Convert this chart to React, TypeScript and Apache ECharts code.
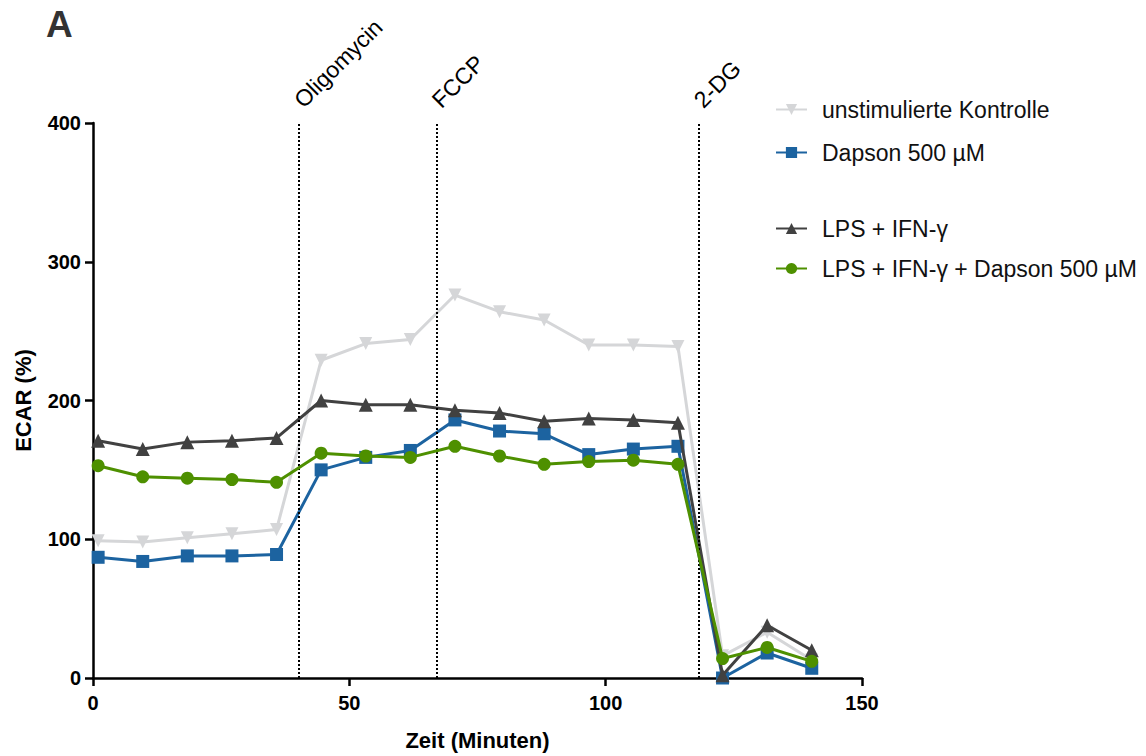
import React, { useEffect, useRef } from "react";
import * as echarts from "echarts";

const times = [1.0, 9.7, 18.4, 27.1, 35.8, 44.5, 53.2, 61.9, 70.6, 79.3, 88.0, 96.7, 105.4, 114.1, 122.8, 131.5, 140.2];
const unstimuliert = [99, 98, 101, 104, 107, 229, 241, 244, 276, 264, 258, 240, 240, 239, 16, 33, 13];
const dapson = [87, 84, 88, 88, 89, 150, 159, 164, 186, 178, 176, 161, 165, 167, 0, 18, 7];
const lpsIfn = [171, 165, 170, 171, 173, 200, 197, 197, 193, 191, 185, 187, 186, 184, 2, 38, 20];
const lpsIfnDapson = [153, 145, 144, 143, 141, 162, 160, 159, 167, 160, 154, 156, 157, 154, 14, 22, 12];
const injections = [
  { name: "Oligomycin", x: 40.2 },
  { name: "FCCP", x: 67.1 },
  { name: "2-DG", x: 118.2 },
];
const seriesNames = ["unstimulierte Kontrolle", "Dapson 500 µM", "LPS + IFN-γ", "LPS + IFN-γ + Dapson 500 µM"];
const colors = ["#d5d6d8", "#1c63a0", "#414141", "#4e9000"];

const FONT = "Liberation Sans, Arial, Helvetica, sans-serif";

export default function App() {
  const ref = useRef<HTMLDivElement>(null);
  useEffect(() => {
    if (!ref.current) return;
    const chart = echarts.init(ref.current, undefined, { renderer: "svg" });
    const pair = (arr: number[]) => times.map((t, i) => [t, arr[i]]);
    const mk = (idx: number, data: number[], symbol: string, size: number, rot = 0, extra: any = {}) => ({
      type: "line",
      name: seriesNames[idx],
      data: pair(data),
      symbol,
      symbolSize: size,
      symbolRotate: rot,
      color: colors[idx],
      lineStyle: { width: 3, color: colors[idx] },
      itemStyle: { color: colors[idx] },
      z: 2 + idx,
      clip: false,
      ...extra,
    });
    const legendText = { fontSize: 23, color: "#111", fontFamily: FONT, padding: [0, 0, 0, 10] };
    chart.setOption({
      animation: false,
      textStyle: { fontFamily: FONT },
      graphic: [
        {
          type: "text",
          left: 46,
          top: 6,
          style: { text: "A", fontSize: 37, fontWeight: "bold", fill: "#333", fontFamily: FONT },
        },
      ],
      legend: [
        {
          data: [seriesNames[0], seriesNames[1]],
          orient: "vertical",
          left: 770,
          top: 93,
          itemWidth: 31,
          itemHeight: 14,
          itemGap: 20,
          textStyle: legendText,
        },
        {
          data: [seriesNames[2], seriesNames[3]],
          orient: "vertical",
          left: 770,
          top: 212,
          itemWidth: 31,
          itemHeight: 14,
          itemGap: 17,
          textStyle: legendText,
        },
      ],
      grid: { left: 93, right: 284, top: 123, bottom: 71, containLabel: false },
      xAxis: {
        type: "value",
        min: 0,
        max: 150,
        interval: 50,
        name: "Zeit (Minuten)",
        nameLocation: "middle",
        nameGap: 51,
        nameTextStyle: { fontSize: 22, fontWeight: "bold", color: "#000", fontFamily: FONT },
        axisLine: { lineStyle: { color: "#000", width: 2.5 } },
        axisTick: { show: true, length: 8, lineStyle: { color: "#000", width: 2.5 } },
        axisLabel: { fontSize: 20, fontWeight: "bold", color: "#000", margin: 15, fontFamily: FONT },
        splitLine: { show: false },
      },
      yAxis: {
        type: "value",
        min: 0,
        max: 400,
        interval: 100,
        name: "ECAR (%)",
        nameLocation: "middle",
        nameGap: 59,
        nameRotate: 90,
        nameTextStyle: { fontSize: 22, fontWeight: "bold", color: "#000", fontFamily: FONT },
        axisLine: { show: true, lineStyle: { color: "#000", width: 2.5 } },
        axisTick: { show: true, length: 8, lineStyle: { color: "#000", width: 2.5 } },
        axisLabel: { fontSize: 20, fontWeight: "bold", color: "#000", margin: 12, fontFamily: FONT },
        splitLine: { show: false },
      },
      series: [
        mk(0, unstimuliert, "triangle", 13, 180, {
          markLine: {
            silent: true,
            symbol: "none",
            label: { show: false },
            lineStyle: { type: "dotted", color: "#000", width: 2 },
            data: injections.map((d) => ({ xAxis: d.x })),
          },
          markPoint: {
            silent: true,
            symbol: "circle",
            symbolSize: 0,
            data: injections.map((d) => ({
              coord: [d.x, 400],
              label: {
                show: true,
                formatter: d.name,
                position: "inside",
                rotate: 45,
                align: "left",
                verticalAlign: "bottom",
                offset: [13, -3],
                fontSize: 23,
                color: "#000",
                fontFamily: FONT,
              },
            })),
          },
        }),
        mk(1, dapson, "rect", 13),
        mk(2, lpsIfn, "triangle", 14),
        mk(3, lpsIfnDapson, "circle", 13),
      ],
    });
    return () => chart.dispose();
  }, []);
  return <div ref={ref} style={{ position: "absolute", left: 0, top: 0, width: 1146, height: 756 }} />;
}
